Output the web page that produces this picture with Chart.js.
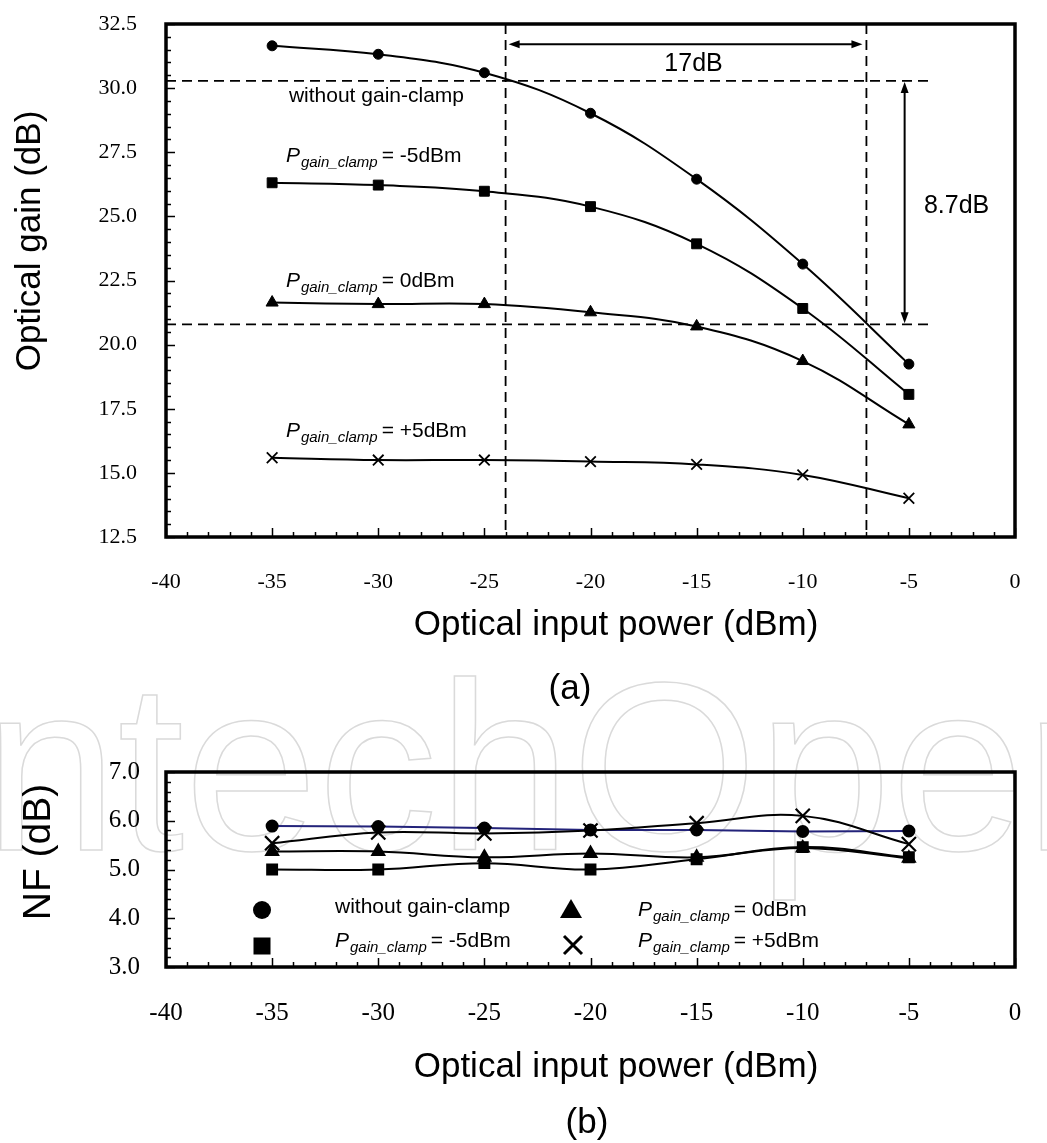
<!DOCTYPE html>
<html>
<head>
<meta charset="utf-8">
<script src="https://cdn.jsdelivr.net/npm/chart.js@4.4.1/dist/chart.umd.min.js"></script>
<style>
  html, body { margin: 0; padding: 0; background: #fff; }
  #wrap { position: relative; width: 1047px; height: 1143px; overflow: hidden; background: #fff; }
  #c1 { position: absolute; left: 0; top: 0; }
  #c2 { position: absolute; left: 0; top: 650px; }
</style>
</head>
<body>
<div id="wrap">
  <canvas id="c1" width="1047" height="720"></canvas>
  <canvas id="c2" width="1047" height="493"></canvas>
</div>
<script>
// ---------------- data ----------------
const inputPower = [-35, -30, -25, -20, -15, -10, -5];              // dBm
const xTickValues = [-40, -35, -30, -25, -20, -15, -10, -5, 0];

// (a) optical gain (dB)
const gainWithout = [31.65, 31.32, 30.60, 29.02, 26.45, 23.14, 19.24];
const gainClampM5 = [26.31, 26.22, 25.98, 25.38, 23.93, 21.41, 18.06];
const gainClamp0  = [21.64, 21.58, 21.58, 21.26, 20.71, 19.36, 16.89];
const gainClampP5 = [15.59, 15.50, 15.50, 15.44, 15.33, 14.92, 14.01];
const gainTickValues = [12.5, 15.0, 17.5, 20.0, 22.5, 25.0, 27.5, 30.0, 32.5];

// (b) noise figure (dB)
const nfWithout = [5.89, 5.88, 5.85, 5.81, 5.81, 5.78, 5.79];
const nfClampM5 = [5.00, 5.00, 5.13, 5.00, 5.21, 5.46, 5.25];
const nfClamp0  = [5.37, 5.37, 5.25, 5.33, 5.25, 5.44, 5.23];
const nfClampP5 = [5.54, 5.76, 5.74, 5.80, 5.95, 6.10, 5.52];
const nfTickValues = [3.0, 4.0, 5.0, 6.0, 7.0];

// annotation values for (a)
const guideGains = [30.28, 20.79];     // dashed horizontal levels (dB)
const guidePowers = [-24, -7];         // dashed vertical levels (dBm)
const guideStopPower = -3.9;
const dynRangeLabel = '17dB';
const dynRangeGain = 31.71;
const gainDiffLabel = '8.7dB';
const gainDiffPower = -5.2;
const seriesNames = ['without gain-clamp', '= -5dBm', '= 0dBm', '= +5dBm'];
const seriesLabelPower = -34.35;
const seriesLabelGains = [29.46, 27.12, 22.25, 16.40];

// ---------------- styling helpers ----------------
const SERIF = '"Liberation Serif", "Times New Roman", serif';
const SANS = '"Liberation Sans", Arial, sans-serif';
const pts = (ys) => inputPower.map((p, i) => ({ x: p, y: ys[i] }));
const noPad = s => { s.paddingTop = 0; s.paddingBottom = 0; s.paddingLeft = 0; s.paddingRight = 0; };

function drawPLabel(ctx, x, y, rest, size) {
  ctx.textAlign = 'left';
  ctx.textBaseline = 'alphabetic';
  ctx.font = 'italic ' + size + 'px ' + SANS;
  ctx.fillText('P', x, y);
  let w = ctx.measureText('P').width + 1;
  const sub = Math.round(size * 0.72);
  ctx.font = 'italic ' + sub + 'px ' + SANS;
  ctx.fillText('gain_clamp', x + w, y + size * 0.25);
  w += ctx.measureText('gain_clamp').width + 4;
  ctx.font = size + 'px ' + SANS;
  ctx.fillText(rest, x + w, y);
}

function arrowHead(ctx, x, y, dx, dy, len, half) {
  const nx = -dy, ny = dx;
  ctx.beginPath();
  ctx.moveTo(x, y);
  ctx.lineTo(x - dx * len + nx * half, y - dy * len + ny * half);
  ctx.lineTo(x - dx * len - nx * half, y - dy * len - ny * half);
  ctx.closePath();
  ctx.fill();
}
function doubleArrow(ctx, x1, y1, x2, y2) {
  const L = Math.hypot(x2 - x1, y2 - y1);
  const dx = (x2 - x1) / L, dy = (y2 - y1) / L;
  ctx.lineWidth = 2;
  ctx.beginPath();
  ctx.moveTo(x1 + dx * 6, y1 + dy * 6);
  ctx.lineTo(x2 - dx * 6, y2 - dy * 6);
  ctx.stroke();
  arrowHead(ctx, x2, y2, dx, dy, 11, 4);
  arrowHead(ctx, x1, y1, -dx, -dy, 11, 4);
}

function framePlugin(cfg) {
  return {
    id: 'frameTicks',
    afterDraw(chart) {
      const { ctx, chartArea: a, scales: { x, y } } = chart;
      ctx.save();
      ctx.strokeStyle = '#000';
      ctx.lineWidth = 1.5;
      const isMult = (v, m) => Math.abs(v / m - Math.round(v / m)) < 1e-6;
      for (let k = 0; ; k++) {
        const v = x.min + k * cfg.xMinor;
        if (v > x.max + 1e-9) break;
        const px = Math.round(x.getPixelForValue(v)) + 0.5;
        const len = isMult(v, cfg.xMajor) ? cfg.majorLen : cfg.minorLen;
        ctx.beginPath(); ctx.moveTo(px, a.bottom); ctx.lineTo(px, a.bottom - len); ctx.stroke();
      }
      for (let k = 0; ; k++) {
        const v = y.min + k * cfg.yMinor;
        if (v > y.max + 1e-9) break;
        const py = Math.round(y.getPixelForValue(v)) + 0.5;
        const len = isMult(v - y.min, cfg.yMajor) ? cfg.majorLen : cfg.minorLen;
        ctx.beginPath(); ctx.moveTo(a.left, py); ctx.lineTo(a.left + len, py); ctx.stroke();
      }
      ctx.lineWidth = 3.5;
      ctx.strokeRect(a.left, a.top, a.right - a.left, a.bottom - a.top);
      ctx.restore();
    }
  };
}

// ---------------- chart (a) ----------------
const annotateA = {
  id: 'annotateA',
  beforeDatasetsDraw(chart) {
    const { ctx, chartArea: a, scales: { x, y } } = chart;
    ctx.save();
    ctx.strokeStyle = '#000';
    ctx.fillStyle = '#000';
    ctx.lineWidth = 1.8;
    ctx.setLineDash([10, 6]);
    guideGains.forEach(g => {
      const py = y.getPixelForValue(g);
      ctx.beginPath(); ctx.moveTo(a.left, py); ctx.lineTo(x.getPixelForValue(guideStopPower), py); ctx.stroke();
    });
    guidePowers.forEach(p => {
      const px = x.getPixelForValue(p);
      ctx.beginPath(); ctx.moveTo(px, a.top); ctx.lineTo(px, a.bottom); ctx.stroke();
    });
    ctx.setLineDash([]);
    const ay = y.getPixelForValue(dynRangeGain);
    const ax1 = x.getPixelForValue(guidePowers[0]) + 3;
    const ax2 = x.getPixelForValue(guidePowers[1]) - 4;
    doubleArrow(ctx, ax1, ay, ax2, ay);
    const vx = x.getPixelForValue(gainDiffPower);
    doubleArrow(ctx, vx, y.getPixelForValue(guideGains[0]) + 1, vx, y.getPixelForValue(guideGains[1]) - 1);
    ctx.font = '25px ' + SANS;
    ctx.textAlign = 'center';
    ctx.textBaseline = 'alphabetic';
    ctx.fillText(dynRangeLabel, (ax1 + ax2) / 2 + 8, ay + 27);
    ctx.fillText(gainDiffLabel, vx + 52, y.getPixelForValue(25.13));
    const lx = x.getPixelForValue(seriesLabelPower);
    ctx.textAlign = 'left';
    ctx.font = '21px ' + SANS;
    ctx.fillText(seriesNames[0], lx + 3, y.getPixelForValue(seriesLabelGains[0]));
    for (let i = 1; i < 4; i++) drawPLabel(ctx, lx, y.getPixelForValue(seriesLabelGains[i]), seriesNames[i], 21);
    ctx.restore();
  },
  afterDraw(chart) {
    const { ctx } = chart;
    ctx.save();
    ctx.fillStyle = '#000';
    ctx.font = '35px ' + SANS;
    ctx.textAlign = 'center';
    ctx.textBaseline = 'alphabetic';
    ctx.fillText('Optical input power (dBm)', 616, 635);
    ctx.fillText('(a)', 570, 699);
    ctx.translate(40, 241);
    ctx.rotate(-Math.PI / 2);
    ctx.fillText('Optical gain (dB)', 0, 0);
    ctx.restore();
  }
};

const lineBase = { borderColor: '#000', borderWidth: 2, pointBackgroundColor: '#000', pointBorderColor: '#000', tension: 0.4, fill: false };

new Chart(document.getElementById('c1'), {
  type: 'line',
  data: {
    datasets: [
      Object.assign({ label: 'without gain-clamp', data: pts(gainWithout), pointStyle: 'circle', pointRadius: 5, pointBorderWidth: 1 }, lineBase),
      Object.assign({ label: 'Pgain_clamp = -5dBm', data: pts(gainClampM5), pointStyle: 'rect', pointRadius: 7, pointBorderWidth: 1 }, lineBase),
      Object.assign({ label: 'Pgain_clamp = 0dBm', data: pts(gainClamp0), pointStyle: 'triangle', pointRadius: 7, pointBorderWidth: 1 }, lineBase),
      Object.assign({ label: 'Pgain_clamp = +5dBm', data: pts(gainClampP5), pointStyle: 'crossRot', pointRadius: 7.5, pointBorderWidth: 1.8 }, lineBase)
    ]
  },
  options: {
    responsive: false, animation: false, devicePixelRatio: 1,
    layout: { padding: { top: 24, right: 32, left: 0, bottom: 0 } },
    plugins: { legend: { display: false }, tooltip: { enabled: false } },
    scales: {
      x: {
        type: 'linear', min: -40, max: 0,
        afterBuildTicks: s => { s.ticks = xTickValues.map(v => ({ value: v })); },
        afterFit: s => { s.height = 183; noPad(s); },
        ticks: { font: { family: SERIF, size: 22 }, color: '#000', padding: 32, maxRotation: 0 },
        grid: { display: false, drawTicks: false }, border: { display: false }
      },
      y: {
        type: 'linear', min: 12.5, max: 32.5,
        afterBuildTicks: s => { s.ticks = gainTickValues.map(v => ({ value: v })); },
        afterFit: s => { s.width = 166; noPad(s); },
        ticks: { font: { family: SERIF, size: 22 }, color: '#000', padding: 29, callback: v => Number(v).toFixed(1) },
        grid: { display: false, drawTicks: false }, border: { display: false }
      }
    }
  },
  plugins: [annotateA, framePlugin({ xMinor: 1, xMajor: 5, yMinor: 0.5, yMajor: 2.5, majorLen: 9, minorLen: 5 })]
});

// ---------------- chart (b) ----------------
const annotateB = {
  id: 'annotateB',
  beforeDraw(chart) {
    const { ctx } = chart;
    ctx.save();
    ctx.strokeStyle = '#dadada';
    ctx.lineWidth = 1.5;
    ctx.font = '240px ' + SANS;
    ctx.textAlign = 'left';
    ctx.textBaseline = 'alphabetic';
    ctx.strokeText('ntechOpen', -16, 200);
    ctx.restore();
  },
  afterDraw(chart) {
    const { ctx, chartArea: a } = chart;
    ctx.save();
    ctx.fillStyle = '#000';
    ctx.strokeStyle = '#000';
    ctx.beginPath(); ctx.arc(a.left + 96, a.top + 138, 9, 0, Math.PI * 2); ctx.fill();
    ctx.fillRect(a.left + 96 - 8.5, a.top + 174 - 8.5, 17, 17);
    const tx = a.left + 405, ty = a.top + 138;
    ctx.beginPath(); ctx.moveTo(tx, ty - 11); ctx.lineTo(tx + 11, ty + 8); ctx.lineTo(tx - 11, ty + 8); ctx.closePath(); ctx.fill();
    const cx = a.left + 407, cy = a.top + 173;
    ctx.lineWidth = 3;
    ctx.beginPath(); ctx.moveTo(cx - 9, cy - 9); ctx.lineTo(cx + 9, cy + 9); ctx.moveTo(cx + 9, cy - 9); ctx.lineTo(cx - 9, cy + 9); ctx.stroke();
    ctx.font = '21px ' + SANS;
    ctx.textAlign = 'left';
    ctx.textBaseline = 'alphabetic';
    ctx.fillText(seriesNames[0], a.left + 169, a.top + 141);
    drawPLabel(ctx, a.left + 169, a.top + 175, seriesNames[1], 21);
    drawPLabel(ctx, a.left + 472, a.top + 144, seriesNames[2], 21);
    drawPLabel(ctx, a.left + 472, a.top + 175, seriesNames[3], 21);
    ctx.font = '35px ' + SANS;
    ctx.textAlign = 'center';
    ctx.fillText('Optical input power (dBm)', 616, 427);
    ctx.fillText('(b)', 587, 483);
    ctx.translate(50, 202);
    ctx.rotate(-Math.PI / 2);
    ctx.font = '39px ' + SANS;
    ctx.fillText('NF (dB)', 0, 0);
    ctx.restore();
  }
};

new Chart(document.getElementById('c2'), {
  type: 'line',
  data: {
    datasets: [
      Object.assign({}, lineBase, { label: 'Pgain_clamp = +5dBm', data: pts(nfClampP5), pointStyle: 'crossRot', pointRadius: 10, pointBorderWidth: 2.2 }),
      Object.assign({}, lineBase, { label: 'Pgain_clamp = 0dBm', data: pts(nfClamp0), pointStyle: 'triangle', pointRadius: 7 }),
      Object.assign({}, lineBase, { label: 'Pgain_clamp = -5dBm', data: pts(nfClampM5), pointStyle: 'rect', pointRadius: 7 }),
      Object.assign({}, lineBase, { label: 'without gain-clamp', data: pts(nfWithout), pointStyle: 'circle', pointRadius: 5.5, borderColor: '#23237a', tension: 0 })
    ]
  },
  options: {
    responsive: false, animation: false, devicePixelRatio: 1,
    layout: { padding: { top: 122, right: 32, left: 0, bottom: 0 } },
    plugins: { legend: { display: false }, tooltip: { enabled: false } },
    scales: {
      x: {
        type: 'linear', min: -40, max: 0,
        afterBuildTicks: s => { s.ticks = xTickValues.map(v => ({ value: v })); },
        afterFit: s => { s.height = 176; noPad(s); },
        ticks: { font: { family: SERIF, size: 25 }, color: '#000', padding: 31, maxRotation: 0 },
        grid: { display: false, drawTicks: false }, border: { display: false }
      },
      y: {
        type: 'linear', min: 3, max: 7,
        afterBuildTicks: s => { s.ticks = nfTickValues.map(v => ({ value: v })); },
        afterFit: s => { s.width = 166; noPad(s); },
        ticks: { font: { family: SERIF, size: 25 }, color: '#000', padding: 26, callback: v => Number(v).toFixed(1) },
        grid: { display: false, drawTicks: false }, border: { display: false }
      }
    }
  },
  plugins: [annotateB, framePlugin({ xMinor: 1, xMajor: 5, yMinor: 0.2, yMajor: 1, majorLen: 9, minorLen: 5 })]
});
</script>
</body>
</html>
